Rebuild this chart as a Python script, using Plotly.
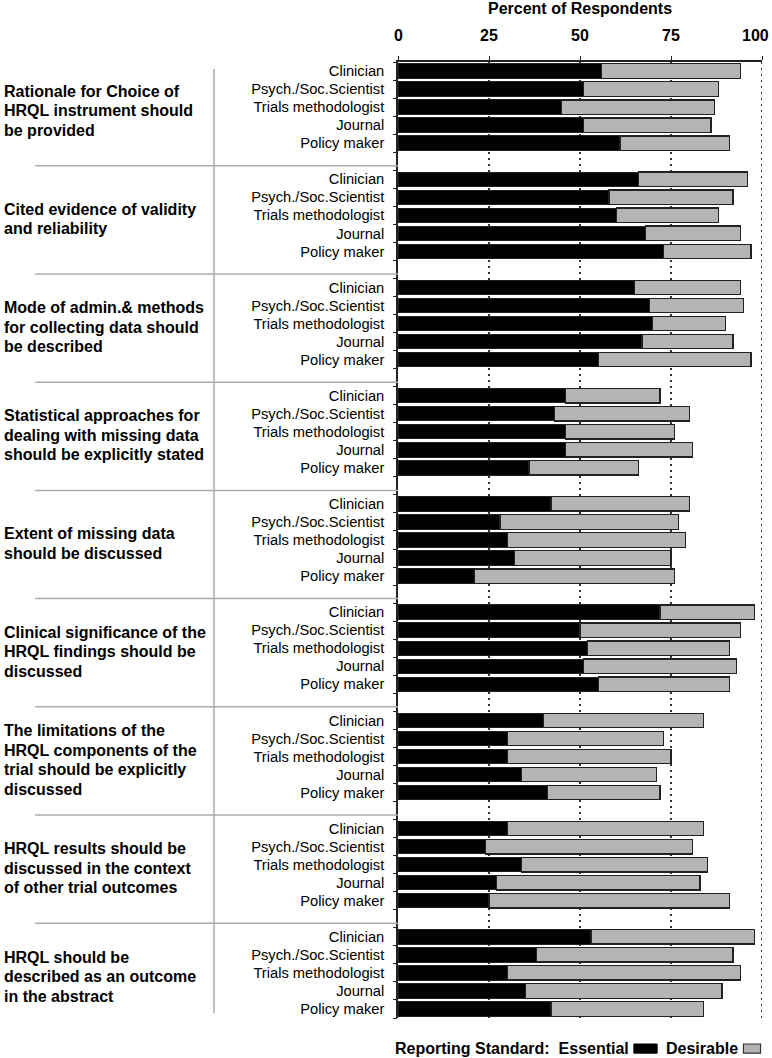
import plotly.graph_objects as go

groups = [
    "Rationale for Choice of<br>HRQL instrument should<br>be provided",
    "Cited evidence of validity<br>and reliability",
    "Mode of admin.& methods<br>for collecting data should<br>be described",
    "Statistical approaches for<br>dealing with missing data<br>should be explicitly stated",
    "Extent of missing data<br>should be discussed",
    "Clinical significance of the<br>HRQL findings should be<br>discussed",
    "The limitations of the<br>HRQL components of the<br>trial should be explicitly<br>discussed",
    "HRQL results should be<br>discussed in the context<br>of other trial outcomes",
    "HRQL should be<br>described as an outcome<br>in the abstract",
]
roles = ["Clinician", "Psych./Soc.Scientist", "Trials methodologist", "Journal", "Policy maker"]

essential = [
    [56, 51, 45, 51, 61],
    [66, 58, 60, 68, 73],
    [65, 69, 70, 67, 55],
    [46, 43, 46, 46, 36],
    [42, 28, 30, 32, 21],
    [72, 50, 52, 51, 55],
    [40, 30, 30, 34, 41],
    [30, 24, 34, 27, 25],
    [53, 38, 30, 35, 42],
]
desirable = [
    [38, 37, 42, 35, 30],
    [30, 34, 28, 26, 24],
    [29, 26, 20, 25, 42],
    [26, 37, 30, 35, 30],
    [38, 49, 49, 43, 55],
    [26, 44, 39, 42, 36],
    [44, 43, 45, 37, 31],
    [54, 57, 51, 56, 66],
    [45, 54, 64, 54, 42],
]
x_ticks = [0, 25, 50, 75, 100]

FONT = "Liberation Sans, Arial, Helvetica, sans-serif"
SLOT = len(roles) + 1
n_slots = len(groups) * SLOT - 1

ys, ess_vals, des_vals, labels = [], [], [], []
for g in range(len(groups)):
    for r, role in enumerate(roles):
        ys.append(g * SLOT + r)
        ess_vals.append(essential[g][r])
        des_vals.append(desirable[g][r])
        labels.append(role)

fig = go.Figure()
fig.add_trace(go.Bar(
    y=ys, x=ess_vals, orientation="h", width=0.8, name="Essential",
    marker=dict(color="black", line=dict(color="#222", width=1)),
    showlegend=False, hoverinfo="x",
))
fig.add_trace(go.Bar(
    y=ys, x=des_vals, orientation="h", width=0.8, name="Desirable",
    marker=dict(color="#b4b4b4", line=dict(color="#222", width=1.3)),
    showlegend=False, hoverinfo="x",
))
boundaries = [b - 0.5 for b in range(n_slots + 1)]
fig.add_trace(go.Scatter(x=[0], y=[0], yaxis="y2", mode="markers",
                         marker=dict(opacity=0), showlegend=False, hoverinfo="skip"))

shapes = []
for v in x_ticks[1:]:
    shapes.append(dict(type="line", xref="x", yref="paper", x0=v, x1=v, y0=0, y1=1,
                       line=dict(color="black", width=1.6, dash="2px,4px"), layer="below"))
for g in range(1, len(groups)):
    yv = g * SLOT - 0.75
    shapes.append(dict(type="line", xref="paper", yref="y", x0=-0.997, x1=0, y0=yv, y1=yv,
                       line=dict(color="#ababab", width=1.5)))
shapes.append(dict(type="line", xref="paper", yref="paper", x0=-0.5055, x1=-0.5055,
                   y0=0.005, y1=0.9927, line=dict(color="#ababab", width=1.5)))
shapes.append(dict(type="rect", xref="x", yref="paper", x0=64.8, x1=71.2, y0=-0.0368, y1=-0.0272,
                   fillcolor="black", line=dict(color="black", width=1)))
shapes.append(dict(type="rect", xref="x", yref="paper", x0=94.9, x1=99.6, y0=-0.0368, y1=-0.0272,
                   fillcolor="#b4b4b4", line=dict(color="#333", width=1.2)))

BOLD = dict(family=FONT, size=16, color="black", weight="bold")
LINE_H = 19.5
annotations = []
for g, text in enumerate(groups):
    lines = text.split("<br>")
    n = len(lines)
    for i, line in enumerate(lines):
        annotations.append(dict(text=line, xref="paper", yref="y", x=-1.088, y=g * SLOT + 2.2,
                                yshift=((n - 1) / 2 - i) * LINE_H,
                                xanchor="left", yanchor="middle", align="left", showarrow=False,
                                font=BOLD))
# top tick labels
for v in x_ticks:
    last = v == x_ticks[-1]
    annotations.append(dict(text=str(v), xref="x", yref="paper", x=v, y=1.0, yshift=27,
                            xshift=9 if last else 0, xanchor="right" if last else "center",
                            yanchor="middle", showarrow=False, font=BOLD))
annotations.append(dict(text="Percent of Respondents", xref="x", yref="paper", x=50, y=1.0,
                        yshift=54, xanchor="center", yanchor="middle", showarrow=False, font=BOLD))
annotations.append(dict(text="Reporting Standard:  Essential", xref="x", yref="paper", x=64.0,
                        y=-0.032, xanchor="right", yanchor="middle", showarrow=False, font=BOLD))
annotations.append(dict(text="Desirable", xref="x", yref="paper", x=94.0,
                        y=-0.032, xanchor="right", yanchor="middle", showarrow=False, font=BOLD))

fig.update_layout(
    width=772, height=1058,
    margin=dict(l=398, r=10, t=62, b=40),
    barmode="stack",
    plot_bgcolor="white", paper_bgcolor="white",
    font=dict(family=FONT, color="black"),
    xaxis=dict(side="top", range=[0, 100], tickvals=x_ticks, showticklabels=False,
               showgrid=False, zeroline=False, showline=True, linecolor="#222", linewidth=1.5,
               ticks="outside", ticklen=4, tickcolor="#222", automargin=False),
    yaxis=dict(range=[n_slots - 0.5, -0.5], tickvals=ys, ticktext=labels,
               showgrid=False, zeroline=False, showline=True, linecolor="#222", linewidth=1.5,
               ticks="outside", ticklen=9, tickcolor="rgba(0,0,0,0)", automargin=False,
               tickfont=dict(family=FONT, size=14.7, color="black")),
    yaxis2=dict(overlaying="y", side="left", range=[n_slots - 0.5, -0.5], tickvals=boundaries,
                showticklabels=False, showgrid=False, zeroline=False, showline=False,
                automargin=False,
                ticks="outside", ticklen=4, tickcolor="#222", tickwidth=1.2),
    shapes=shapes, annotations=annotations,
)

fig.write_html("out.html", config={"displayModeBar": False},
               post_script="document.body.style.margin='0px';")
